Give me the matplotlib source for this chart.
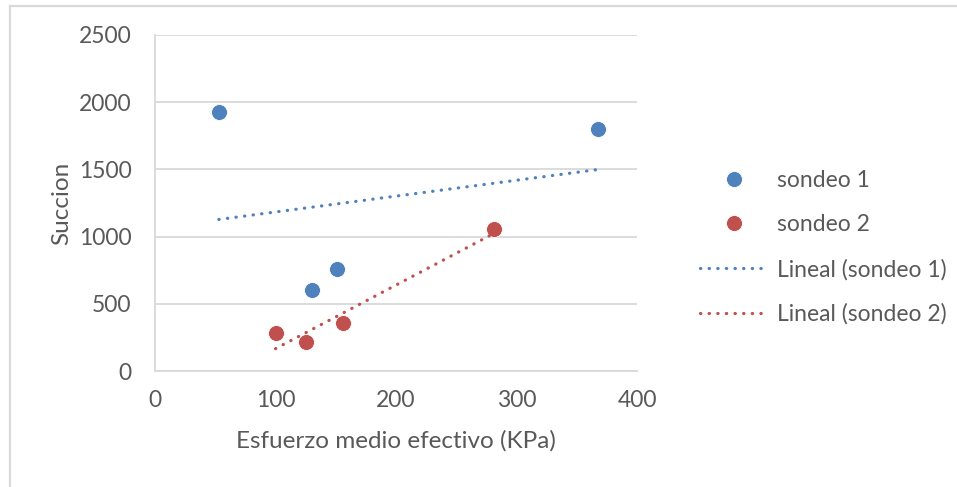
import numpy as np
import matplotlib
matplotlib.use("Agg")
import matplotlib.pyplot as plt
from matplotlib.lines import Line2D

# Data
sondeo1_x = [53, 130, 151, 368]
sondeo1_y = [1930, 600, 757, 1802]
sondeo2_x = [100, 125, 156, 281]
sondeo2_y = [280, 213, 355, 1056]

series_names = ["sondeo 1", "sondeo 2"]
trend_names = ["Lineal (sondeo 1)", "Lineal (sondeo 2)"]
x_ticks = [0, 100, 200, 300, 400]
y_ticks = [0, 500, 1000, 1500, 2000, 2500]
x_label = "Esfuerzo medio efectivo (KPa)"
y_label = "Succion"

BLUE = "#4F81BD"
RED = "#C0504D"
TEXT = "#595959"
GRID = "#D9D9D9"

plt.rcParams['font.family'] = ['Lato', 'DejaVu Sans']
FS = 16.5
FS_TITLE = 17.5

W, H = 957, 487
fig = plt.figure(figsize=(W / 100, H / 100), dpi=100)
fig.patch.set_facecolor("white")

# chart border (cropped at right/bottom)
fig.add_artist(Line2D([10 / W, 1.0], [1 - 6 / H, 1 - 6 / H], color=GRID, lw=1.6,
                      transform=fig.transFigure))
fig.add_artist(Line2D([10 / W, 10 / W], [1 - 6 / H, 0.0], color=GRID, lw=1.6,
                      transform=fig.transFigure))

L, R, T, B = 155, 637, 35, 371
ax = fig.add_axes([L / W, 1 - B / H, (R - L) / W, (B - T) / H])

ax.set_xlim(0, 400)
ax.set_ylim(0, 2500)
ax.set_xticks(x_ticks)
ax.set_yticks(y_ticks)
ax.set_xticklabels([str(v) for v in x_ticks])
ax.set_yticklabels([str(v) for v in y_ticks])
ax.tick_params(axis='both', length=0, labelsize=FS, labelcolor=TEXT)
ax.tick_params(axis='x', pad=14)
ax.tick_params(axis='y', pad=17)

ax.grid(axis='y', color=GRID, lw=1.3)
ax.set_axisbelow(True)
for s in ['top', 'right']:
    ax.spines[s].set_visible(False)
ax.spines['left'].set_color(GRID)
ax.spines['left'].set_linewidth(1.3)
ax.spines['bottom'].set_color(GRID)
ax.spines['bottom'].set_linewidth(1.3)

ax.set_xlabel(x_label, fontsize=FS_TITLE, color=TEXT)
ax.set_ylabel(y_label, fontsize=FS_TITLE, color=TEXT)
ax.xaxis.set_label_coords(0.5, (B - 441) / (B - T))
ax.xaxis.label.set_va('center')
ax.yaxis.set_label_coords((62 - L) / (R - L), 0.5)
ax.yaxis.label.set_va('center')
ax.yaxis.label.set_ha('center')

MS = 11.5
ax.plot(sondeo1_x, sondeo1_y, 'o', color=BLUE, ms=MS, mec='white', mew=0.6, zorder=3)
ax.plot(sondeo2_x, sondeo2_y, 'o', color=RED, ms=MS, mec='white', mew=0.6, zorder=3)

dot = (0, (0.1, 2.6))
LW = 2.3
for xs, ys, c in [(sondeo1_x, sondeo1_y, BLUE), (sondeo2_x, sondeo2_y, RED)]:
    m, b = np.polyfit(xs, ys, 1)
    xx = np.array([min(xs), max(xs)])
    ax.plot(xx, m * xx + b, color=c, lw=LW, linestyle=dot, dash_capstyle='round', zorder=4)

handles = [
    Line2D([], [], marker='o', ls='none', color=BLUE, ms=MS, mec='white', mew=0.6),
    Line2D([], [], marker='o', ls='none', color=RED, ms=MS, mec='white', mew=0.6),
    Line2D([], [], color=BLUE, lw=LW, linestyle=dot, dash_capstyle='round'),
    Line2D([], [], color=RED, lw=LW, linestyle=dot, dash_capstyle='round'),
]
fs_px = FS * 100 / 72
leg = fig.legend(handles, series_names + trend_names, loc='center left',
                 bbox_to_anchor=(700 / W, 1 - 247.5 / H), frameon=False,
                 fontsize=FS, labelcolor=TEXT, borderpad=0, borderaxespad=0,
                 handlelength=67 / fs_px, handletextpad=10 / fs_px,
                 labelspacing=1.02)

fig.savefig("out.png", dpi=100, facecolor="white")
